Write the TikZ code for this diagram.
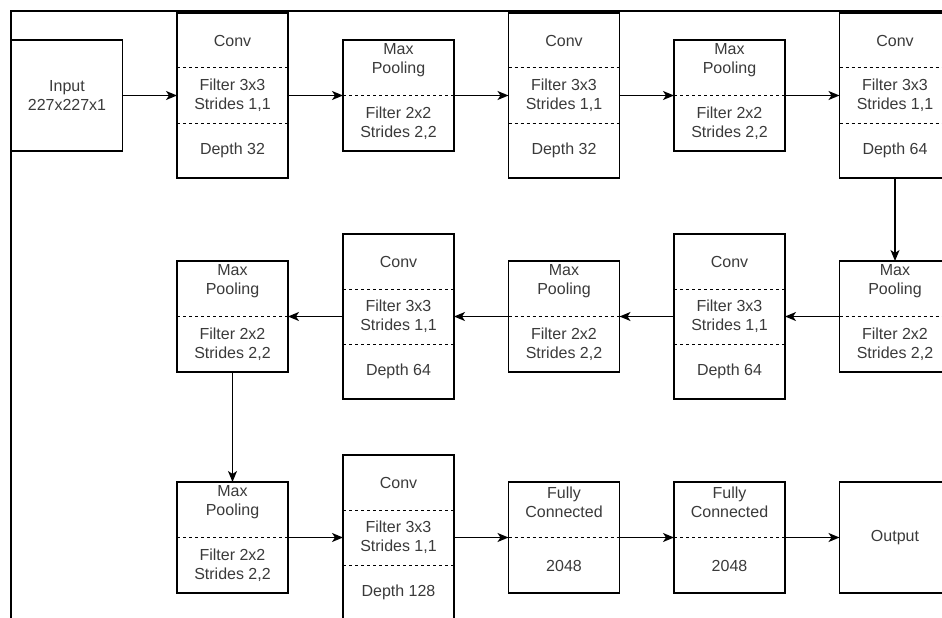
\documentclass[tikz,border=0pt]{standalone}
\usepackage{fontspec}
\setmainfont{Liberation Sans}
\usetikzlibrary{arrows.meta}
\definecolor{txt}{HTML}{3A3A3A}
\tikzset{
 box/.style={draw=black, line width=1.3pt, rectangle, minimum width=111pt, inner sep=0pt, outer sep=0pt},
 tallbox/.style={box, minimum height=165pt},
 shortbox/.style={box, minimum height=111pt},
 sepline/.style={draw=black, dash pattern=on 3pt off 3pt, line width=1pt},
 lbl/.style={text=txt, font=\fontsize{16}{19.2}\selectfont, align=center, inner sep=0pt},
 arr/.style={draw=black, line width=1.3pt, -{Stealth[length=11pt,width=9pt,inset=3pt]}},
 framel/.style={draw=black, line width=2pt}
}
\newcommand\ConvBox[4]{%
 \node[tallbox] (#1) at (#2,#3) {};
 \draw[sepline] ([yshift=-55pt]#1.north west) -- ([yshift=-55pt]#1.north east);
 \draw[sepline] ([yshift=-110pt]#1.north west) -- ([yshift=-110pt]#1.north east);
 \node[lbl] (#1-a) at ([yshift=-27.5pt]#1.north) {Conv};
 \node[lbl] (#1-b) at (#1.center) {Filter 3x3\\Strides 1,1};
 \node[lbl] (#1-c) at ([yshift=27.5pt]#1.south) {Depth #4};
}
\newcommand\PoolBox[3]{%
 \node[shortbox] (#1) at (#2,#3) {};
 \draw[sepline] (#1.west) -- (#1.east);
 \node[lbl] (#1-a) at ([yshift=-20.5pt]#1.north) {Max\\Pooling};
 \node[lbl] (#1-b) at ([yshift=27.5pt]#1.south) {Filter 2x2\\Strides 2,2};
}
\newcommand\FCBox[3]{%
 \node[shortbox] (#1) at (#2,#3) {};
 \draw[sepline] (#1.west) -- (#1.east);
 \node[lbl] (#1-a) at ([yshift=-20.5pt]#1.north) {Fully\\Connected};
 \node[lbl] (#1-b) at ([yshift=27.5pt]#1.south) {2048};
}
\begin{document}
\begin{tikzpicture}[x=1pt,y=-1pt]
\useasboundingbox (0,0) rectangle (942,618);
\clip (0,0) rectangle (942,618);
\draw[framel] (11,620) -- (11,11) -- (944,11);
% row 1
\node[shortbox] (in) at (67,95.5) {};
\node[lbl] (in-a) at (in.center) {Input\\227x227x1};
\ConvBox{c1}{232.5}{95.5}{32}
\PoolBox{p1}{398.5}{95.5}
\ConvBox{c2}{564}{95.5}{32}
\PoolBox{p2}{729.5}{95.5}
\ConvBox{c3}{895}{95.5}{64}
% row 2
\PoolBox{p3}{895}{316.5}
\ConvBox{c4}{729.5}{316.5}{64}
\PoolBox{p4}{564}{316.5}
\ConvBox{c5}{398.5}{316.5}{64}
\PoolBox{p5}{232.5}{316.5}
% row 3
\PoolBox{p6}{232.5}{537.5}
\ConvBox{c6}{398.5}{537.5}{128}
\FCBox{f1}{564}{537.5}
\FCBox{f2}{729.5}{537.5}
\node[shortbox] (out) at (895,537.5) {};
\node[lbl] (out-a) at (out.center) {Output};
% connectors
\draw[arr] (in) -- (c1);
\draw[arr] (c1) -- (p1);
\draw[arr] (p1) -- (c2);
\draw[arr] (c2) -- (p2);
\draw[arr] (p2) -- (c3);
\draw[arr] (c3) -- (p3);
\draw[arr] (p3) -- (c4);
\draw[arr] (c4) -- (p4);
\draw[arr] (p4) -- (c5);
\draw[arr] (c5) -- (p5);
\draw[arr] (p5) -- (p6);
\draw[arr] (p6) -- (c6);
\draw[arr] (c6) -- (f1);
\draw[arr] (f1) -- (f2);
\draw[arr] (f2) -- (out);
\end{tikzpicture}
\end{document}
